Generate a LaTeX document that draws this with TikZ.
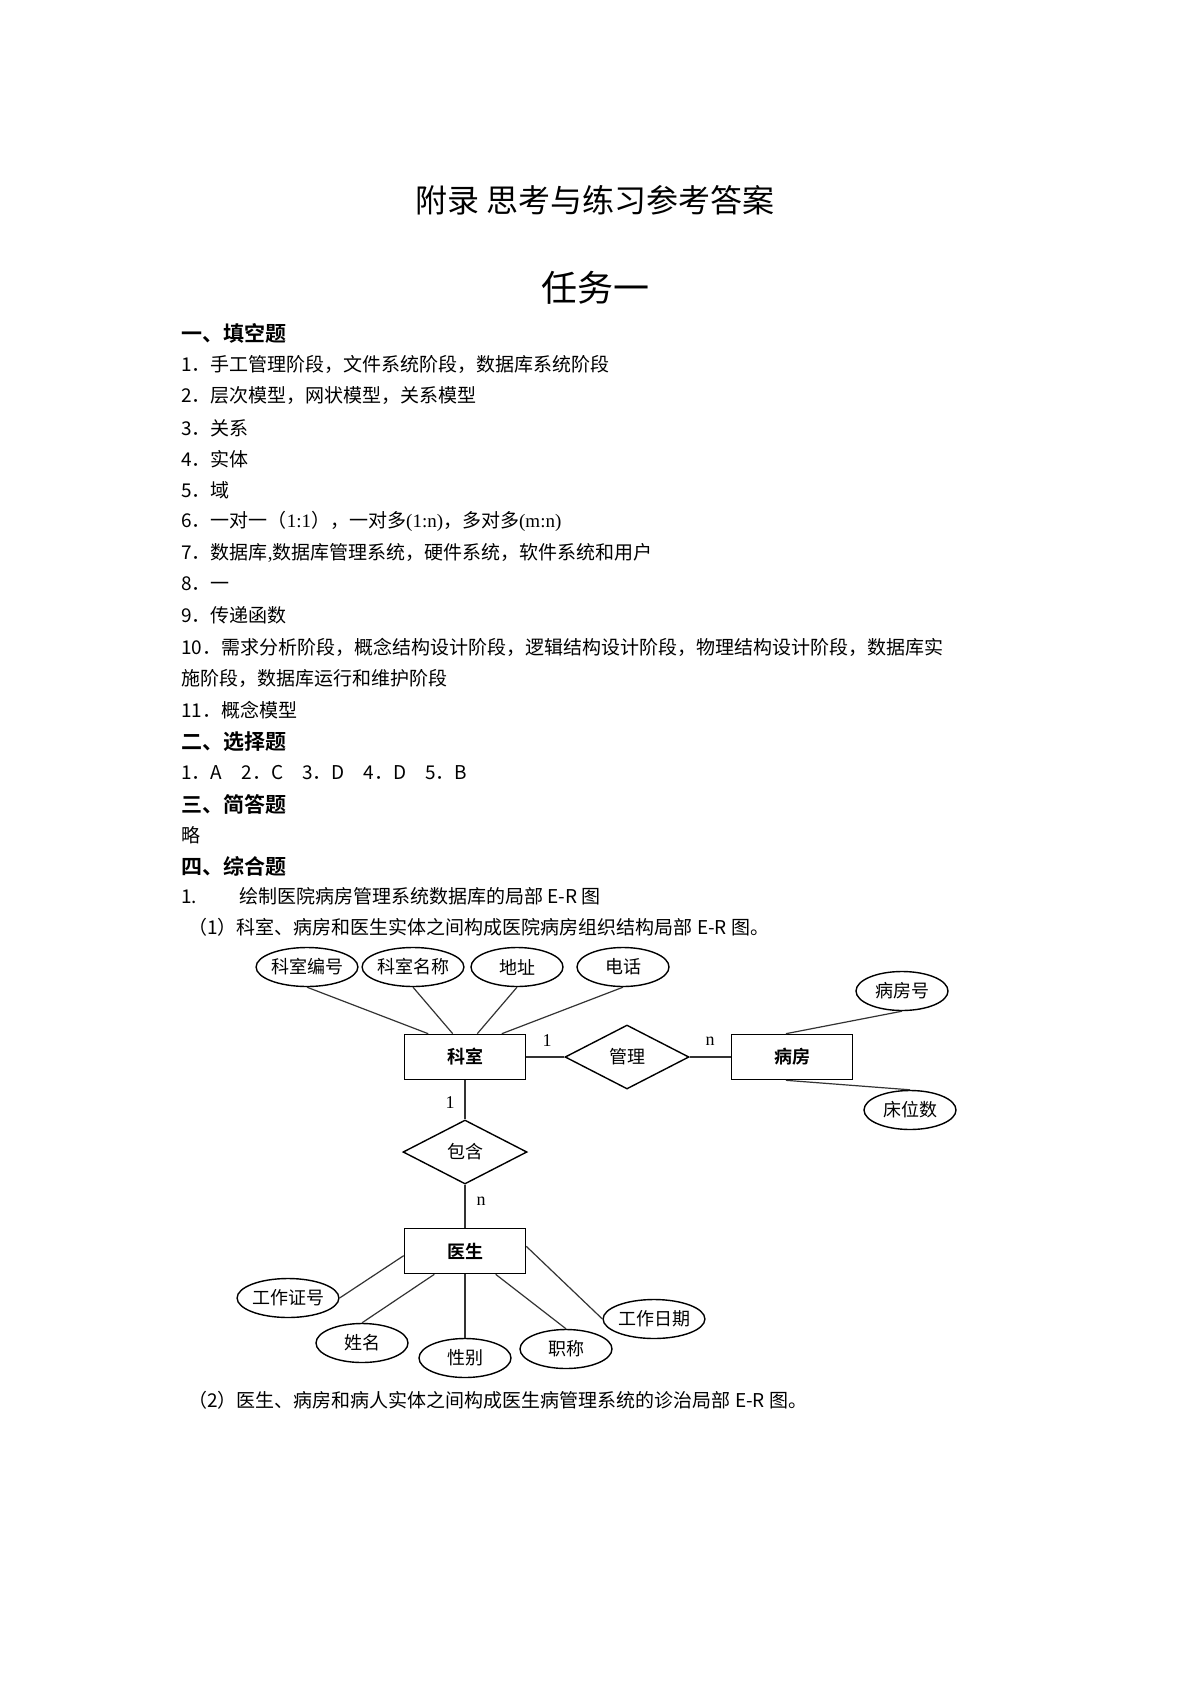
\documentclass[tikz,border=0pt]{standalone}
\usepackage{fontspec}
\setmainfont{Liberation Serif}
\newfontfamily\cjk{Noto Sans CJK SC}
\newfontfamily\cjkb{Noto Sans CJK SC Bold}
\usetikzlibrary{shapes.geometric,calc}
\begin{document}
\begin{tikzpicture}[x=0.5pt,y=-0.5pt,
  line/.style={anchor=west,inner sep=0,font=\fontsize{9.5pt}{11pt}\cjk},
  sect/.style={anchor=west,inner sep=0,font=\fontsize{10.5pt}{12pt}\cjkb},
  ent/.style={draw,line width=0.8pt,minimum width=60.5pt,minimum height=22.5pt,inner sep=0,font=\fontsize{9pt}{10pt}\cjkb},
  attr/.style={draw,ellipse,line width=0.7pt,minimum width=46pt,minimum height=19.5pt,inner sep=0,font=\fontsize{9pt}{10pt}\cjk},
  rel/.style={draw,diamond,line width=0.7pt,minimum width=62pt,minimum height=32pt,inner sep=0,font=\fontsize{9pt}{10pt}\cjk},
  card/.style={inner sep=0,font=\fontsize{9pt}{10pt}\selectfont},
  conn/.style={line width=0.6pt,draw=black!80}]
\useasboundingbox[fill=white] (0,0) rectangle (1191,1684);
\node[inner sep=0,font=\fontsize{16pt}{18pt}\cjk] (title) at (595,200) {附录\ 思考与练习参考答案};
\node[inner sep=0,font=\fontsize{18pt}{20pt}\cjk] (task) at (595,288) {任务一};
\node[sect] (s1) at (181,333) {一、填空题};
\node[line] (l1) at (181,364) {1．手工管理阶段，文件系统阶段，数据库系统阶段};
\node[line] (l2) at (181,396) {2．层次模型，网状模型，关系模型};
\node[line] (l3) at (181,428) {3．关系};
\node[line] (l4) at (181,459) {4．实体};
\node[line] (l5) at (181,490) {5．域};
\node[line] (l6) at (181,521) {6．一对一（{\rmfamily 1:1}），一对多{\rmfamily (1:n)}，多对多{\rmfamily (m:n)}};
\node[line] (l7) at (181,553) {7．数据库{\rmfamily ,}数据库管理系统，硬件系统，软件系统和用户};
\node[line] (l8) at (181,584) {8．一};
\node[line] (l9) at (181,615) {9．传递函数};
\node[line] (l10) at (181,647) {10．需求分析阶段，概念结构设计阶段，逻辑结构设计阶段，物理结构设计阶段，数据库实};
\node[line] (l10b) at (181,678) {施阶段，数据库运行和维护阶段};
\node[line] (l11) at (181,710) {11．概念模型};
\node[sect] (s2) at (181,742) {二、选择题};
\node[line] (c1) at (181,773) {1．A\quad 2．C\quad 3．D\quad 4．D\quad 5．B};
\node[sect] (s3) at (181,804) {三、简答题};
\node[line] (lue) at (181,835) {略};
\node[sect] (s4) at (181,866) {四、综合题};
\node[line] (q1) at (181,896) {1.\hspace{2.2em}绘制医院病房管理系统数据库的局部 E-R 图};
\node[line] (q11) at (188,927) {（1）科室、病房和医生实体之间构成医院病房组织结构局部 E-R 图。};
\node[line] (q12) at (188,1400) {（2）医生、病房和病人实体之间构成医生病管理系统的诊治局部 E-R 图。};
% ER diagram
\node[ent] (ks) at (465,1057) {科室};
\node[rel] (gl) at (627,1057) {管理};
\node[ent] (bf) at (792,1057) {病房};
\node[attr] (bfh) at (902,991) {病房号};
\node[attr] (cws) at (910,1110) {床位数};
\node[attr] (ksbh) at (307,967) {科室编号};
\node[attr] (ksmc) at (413,967) {科室名称};
\node[attr] (dz) at (517,967) {地址};
\node[attr] (dh) at (623,967) {电话};
\node[rel] (bh) at (465,1152) {包含};
\node[ent] (ys) at (465,1251) {医生};
\node[attr] (gzzh) at (288,1298) {工作证号};
\node[attr] (xm) at (362,1343) {姓名};
\node[attr] (xb) at (465,1358) {性别};
\node[attr] (zc) at (566,1349) {职称};
\node[attr] (gzrq) at (654,1319) {工作日期};
\draw[conn] (ksbh.south) -- ($(ks.north west)!0.2!(ks.north east)$);
\draw[conn] (ksmc.south) -- ($(ks.north west)!0.4!(ks.north east)$);
\draw[conn] (dz.south) -- ($(ks.north west)!0.6!(ks.north east)$);
\draw[conn] (dh.south) -- ($(ks.north west)!0.8!(ks.north east)$);
\draw[conn] (ks) -- (gl);
\draw[conn] (gl) -- (bf);
\draw[conn] (bfh.south) -- ($(bf.north west)!0.45!(bf.north east)$);
\draw[conn] (cws.north) -- ($(bf.south west)!0.45!(bf.south east)$);
\draw[conn] (ks) -- (bh);
\draw[conn] (bh) -- (ys);
\draw[conn] (gzzh.east) -- ($(ys.north west)!0.6!(ys.south west)$);
\draw[conn] (xm.north) -- ($(ys.south west)!0.25!(ys.south east)$);
\draw[conn] (xb.north) -- (ys.south);
\draw[conn] (zc.north) -- ($(ys.south west)!0.75!(ys.south east)$);
\draw[conn] (gzrq.west) -- ($(ys.north east)!0.4!(ys.south east)$);
\node[card] (c1a) at (547,1041) {1};
\node[card] (c1b) at (710,1041) {n};
\node[card] (c2a) at (450,1103) {1};
\node[card] (c2b) at (481,1201) {n};
\end{tikzpicture}
\end{document}
